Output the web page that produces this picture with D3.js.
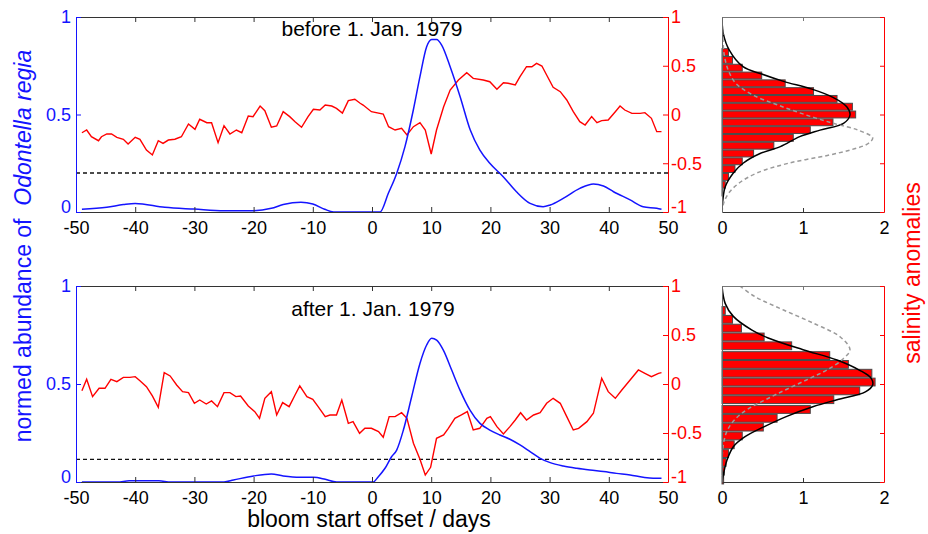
<!DOCTYPE html>
<html>
<head>
<meta charset="utf-8">
<script src="https://cdn.jsdelivr.net/npm/d3@7"></script>
<style>
  body{margin:0;background:#fff;}
  svg{display:block;font-family:"Liberation Sans",Arial,Helvetica,sans-serif;}
</style>
</head>
<body>
<div id="chart"></div>
<script>
// ---- data ----
var xTicks=[-50,-40,-30,-20,-10,0,10,20,30,40,50];
var blueTicks=[0,0.5,1];
var salTicks=[-1,-0.5,0,0.5,1];
var densTicks=[0,1,2];

// before 1. Jan. 1979 : normed abundance (blue)
var topBlueDay=[-49,-44.8,-42,-40,-35,-30,-25,-20,-17,-15,-12,-10,-8,-6.5,-3,1.35,2.76,4.17,5.57,6.98,8.1,9.23,10.08,10.92,11.77,13.2,14.9,16.6,18.2,19.9,22.2,24.4,26.7,28.9,30.1,32.3,35.1,37.4,39.1,40.8,43.6,45.8,48.1,48.9];
var topBlueVal=[0.014,0.024,0.038,0.044,0.024,0.015,0.007,0.007,0.019,0.038,0.05,0.041,0.014,0,0,0,0.096,0.198,0.335,0.523,0.694,0.848,0.885,0.885,0.856,0.745,0.59,0.42,0.318,0.25,0.18,0.104,0.044,0.027,0.036,0.07,0.121,0.144,0.133,0.104,0.062,0.027,0.019,0.014];
// before 1. Jan. 1979 : salinity anomalies (red)
var topRedDay=[-49,-48.2,-47.4,-46.2,-45.7,-44.8,-44,-43.1,-42,-41.2,-40,-39.2,-38.1,-37.1,-36.1,-35.3,-34.4,-33.3,-32.2,-31,-29.9,-29.1,-27.9,-27.1,-26,-25,-24,-22.9,-22,-20.9,-20.1,-18.9,-18.1,-17,-16.1,-15,-13.9,-13,-11.9,-10.8,-9.9,-8.8,-7.9,-6.8,-6,-5,-4,-2.9,-2,-1.5,-0.1,1.9,2.8,3.9,5,5.9,7,8.1,9,10,10.9,12.1,13.2,14.6,16,17.1,18.8,19.9,21.1,22.2,23,24.2,25,26.1,27,27.8,28.7,29.5,30.6,31.8,32.9,34,35.1,36,37.1,38,38.8,39.9,41.1,41.9,42.7,43.9,45.3,46.1,47.2,48.1,48.9];
var topRedVal=[-0.187,-0.159,-0.228,-0.269,-0.228,-0.2,-0.2,-0.234,-0.254,-0.303,-0.234,-0.254,-0.364,-0.415,-0.269,-0.296,-0.262,-0.254,-0.228,-0.097,-0.152,-0.049,-0.084,-0.084,-0.289,-0.115,-0.2,-0.159,-0.187,-0.015,-0.022,0.087,0.039,-0.131,-0.118,0.029,-0.022,-0.074,-0.131,-0.022,0.053,0.046,0.097,0.087,0.063,0.015,0.142,0.156,0.115,0.097,0.029,0.005,-0.125,-0.159,-0.142,-0.21,-0.125,-0.084,-0.159,-0.405,-0.159,0.08,0.251,0.354,0.429,0.371,0.354,0.336,0.258,0.326,0.32,0.303,0.388,0.49,0.49,0.525,0.497,0.405,0.279,0.234,0.149,0.029,-0.074,-0.108,-0.022,-0.084,-0.063,-0.056,0.029,0.087,0.046,0.012,0.012,0.019,-0.039,-0.176,-0.176];

// after 1. Jan. 1979 : normed abundance (blue)
var botBlueDay=[-49,-43,-41,-36,-34,-25,-23.4,-20,-17,-15,-12.2,-9.9,-7.9,-6,0.2,1.07,2.2,3.3,4.17,5.3,6.7,8.1,9.23,10.08,10.92,12.05,13.46,14.86,16.55,18.24,19.9,21.6,23.3,25,26.7,28.4,30.1,32.3,34.6,36.8,39.1,41.3,43.6,45.8,47.5,48.9];
var botBlueVal=[0,0,0.006,0.006,0,0,0.01,0.031,0.041,0.031,0.024,0.024,0.014,0,0,0.027,0.07,0.129,0.163,0.265,0.435,0.605,0.699,0.733,0.724,0.673,0.571,0.469,0.367,0.299,0.265,0.24,0.218,0.189,0.155,0.121,0.099,0.082,0.07,0.061,0.053,0.044,0.036,0.024,0.019,0.019];
// after 1. Jan. 1979 : salinity anomalies (red)
var botRedDay=[-49,-48.2,-47.2,-46.1,-45.1,-44.1,-43.1,-42,-40.9,-40,-39.2,-38.1,-37.1,-36.1,-35.1,-34.1,-33,-32,-31,-30,-29.1,-28,-27.1,-26.1,-25,-24,-23,-22.2,-20.9,-19.8,-19,-18.1,-17,-16.1,-15.1,-14,-13,-12.2,-11,-10,-9.1,-7.9,-7.1,-6,-5.1,-4,-3.2,-2.1,-1.2,-0.1,1.1,1.9,2.9,3.9,5,5.9,7,8.1,9,9.9,10.9,12.1,12.9,14,15.1,16.1,17.1,18.2,19.4,20,21.1,22.2,23.3,24.2,25.1,26.1,27.3,28.4,29.5,30.6,31.8,32.9,34,34.9,36.3,37.4,38.8,39.9,41.1,42.2,43.6,45,46.1,47.2,48.4,48.9];
var botRedVal=[-0.068,0.048,-0.129,-0.044,-0.044,0.048,0.024,0.068,0.068,0.075,0.034,-0.027,-0.122,-0.238,0.116,0.082,-0.01,-0.078,-0.088,-0.197,-0.163,-0.204,-0.173,-0.231,-0.088,-0.088,-0.129,-0.122,-0.224,-0.282,-0.35,-0.146,-0.078,-0.316,-0.19,-0.231,-0.112,-0.02,-0.129,-0.156,-0.231,-0.333,-0.316,-0.316,-0.163,-0.401,-0.384,-0.503,-0.452,-0.452,-0.486,-0.544,-0.333,-0.333,-0.293,-0.35,-0.605,-0.769,-0.929,-0.85,-0.554,-0.52,-0.452,-0.35,-0.316,-0.282,-0.469,-0.452,-0.35,-0.333,-0.435,-0.51,-0.435,-0.367,-0.293,-0.367,-0.316,-0.293,-0.197,-0.146,-0.197,-0.333,-0.469,-0.452,-0.384,-0.299,0.058,-0.078,-0.146,-0.061,0.041,0.143,0.109,0.075,0.109,0.116];

// dashed threshold levels (abundance units)
var topThreshold=0.2;
var botThreshold=0.115;

// histograms of salinity anomalies (bin centres, density)
var topHistCenter=[0.64,0.56,0.48,0.40,0.32,0.24,0.16,0.08,0,-0.08,-0.16,-0.24,-0.32,-0.40,-0.48,-0.56,-0.64,-0.72,-0.80];
var topHistDensity=[0.08,0.13,0.25,0.49,0.78,1.13,1.42,1.61,1.65,1.37,1.09,0.88,0.64,0.39,0.25,0.16,0.08,0.04,0.01];
var topBinWidth=0.08;
var botHistCenter=[0.75,0.66,0.57,0.48,0.39,0.29,0.20,0.11,0.02,-0.07,-0.16,-0.26,-0.35,-0.44,-0.53,-0.62,-0.71,-0.80,-0.89,-0.98];
var botHistDensity=[0.04,0.13,0.24,0.52,0.86,1.33,1.56,1.85,1.89,1.70,1.38,1.09,0.68,0.51,0.25,0.15,0.08,0.05,0.03,0.02];
var botBinWidth=0.0905;

// fitted density curves (solid = this period, dashed = other period)
var topFitSal=[1,0.97,0.83,0.66,0.49,0.415,0.34,0.26,0.176,0.08,-0.005,-0.09,-0.16,-0.227,-0.33,-0.4,-0.5,-0.6,-0.74,-0.88,-0.98,-1];
var topFitDens=[0,0,0.016,0.09,0.26,0.49,0.76,1.11,1.37,1.54,1.58,1.5,1.21,0.96,0.72,0.47,0.26,0.14,0.04,0.01,0,0];
var topAltSal=[1,0.8,0.6,0.45,0.32,0.2,0.1,0,-0.09,-0.16,-0.24,-0.3,-0.36,-0.42,-0.5,-0.6,-0.71,-0.81,-0.91,-1];
var topAltDens=[0,0.01,0.03,0.08,0.17,0.38,0.68,1.02,1.37,1.68,1.86,1.8,1.6,1.3,0.82,0.43,0.2,0.08,0.02,0];
var botFitSal=[1,0.82,0.69,0.55,0.47,0.35,0.245,0.14,0.06,-0.01,-0.08,-0.16,-0.23,-0.33,-0.44,-0.54,-0.64,-0.78,-0.91,-1];
var botFitDens=[0,0.04,0.14,0.37,0.57,1.0,1.42,1.7,1.84,1.86,1.77,1.42,1.13,0.8,0.51,0.28,0.14,0.06,0.02,0];
var botAltSal=[1,0.89,0.755,0.62,0.48,0.35,0.26,0.15,0.06,-0.03,-0.13,-0.3,-0.45,-0.6,-0.8,-1];
var botAltDens=[0.22,0.41,0.76,1.13,1.46,1.58,1.5,1.31,1.09,0.86,0.61,0.24,0.08,0.02,0,0];

// ---- drawing ----
var W=928,H=534;
var BLUE="#1414ff",RED="#ff0000",FRAME="#333";
var svg=d3.select("#chart").append("svg").attr("width",W).attr("height",H);

var xDay=d3.scaleLinear().domain([-50,50]).range([76,668]);
var xDens=d3.scaleLinear().domain([0,2]).range([722,884]);
var fmt=function(d){return String(d);};

function zip(a,b){return a.map(function(v,i){return [v,b[i]];});}

function styleAxis(g,color,fontSize){
  g.selectAll("path").attr("stroke",color).attr("stroke-width",1);
  g.selectAll("line").attr("stroke",color);
  g.selectAll("text").attr("fill",color).attr("font-size",fontSize)
    .attr("font-family","'Liberation Sans',Arial,sans-serif");
}

function drawPanel(p){
  var yBlue=d3.scaleLinear().domain([0,1]).range([p.bottom,p.top]);
  var ySal=d3.scaleLinear().domain([-1,1]).range([p.bottom,p.top]);
  var g=svg.append("g");

  // threshold
  g.append("line")
    .attr("x1",xDay(-50)).attr("x2",xDay(50))
    .attr("y1",yBlue(p.thresh)).attr("y2",yBlue(p.thresh))
    .attr("stroke","#111").attr("stroke-width",1.3).attr("stroke-dasharray","4,3");

  // salinity time series
  g.append("path").datum(zip(p.redDay,p.redVal))
    .attr("fill","none").attr("stroke",RED).attr("stroke-width",1.4)
    .attr("d",d3.line().x(function(d){return xDay(d[0]);}).y(function(d){return ySal(d[1]);}));

  // abundance
  g.append("path").datum(zip(p.blueDay,p.blueVal))
    .attr("fill","none").attr("stroke",BLUE).attr("stroke-width",1.5)
    .attr("d",d3.line().curve(d3.curveMonotoneX).x(function(d){return xDay(d[0]);}).y(function(d){return yBlue(d[1]);}));

  // axes of time series panel
  var gb=g.append("g").attr("transform","translate(0,"+p.bottom+")")
    .call(d3.axisBottom(xDay).tickValues(xTicks).tickFormat(fmt).tickSizeInner(-5).tickSizeOuter(0).tickPadding(9));
  styleAxis(gb,FRAME,18); gb.selectAll("text").attr("fill","#000");
  var gt=g.append("g").attr("transform","translate(0,"+p.top+")")
    .call(d3.axisTop(xDay).tickValues(xTicks).tickFormat("").tickSizeInner(-5).tickSizeOuter(0));
  styleAxis(gt,FRAME,18);
  var gl=g.append("g").attr("transform","translate("+xDay(-50)+",0)")
    .call(d3.axisLeft(yBlue).tickValues(blueTicks).tickFormat(fmt).tickSizeInner(-5).tickSizeOuter(0).tickPadding(5));
  styleAxis(gl,BLUE,18);
  gl.selectAll(".tick").filter(function(d){return d===0;}).select("text").attr("dy","0.05em");
  var gr=g.append("g").attr("transform","translate("+xDay(50)+",0)")
    .call(d3.axisRight(ySal).tickValues(salTicks).tickFormat(fmt).tickSizeInner(-5).tickSizeOuter(0).tickPadding(3));
  styleAxis(gr,RED,18);
  gr.selectAll(".tick").filter(function(d){return d===-1;}).select("text").attr("dy","0.05em");

  // title
  g.append("text").attr("x",p.titleX).attr("y",p.titleY).attr("text-anchor","middle")
    .attr("font-size",21).attr("fill","#000").text(p.title);

  // histogram panel
  var h=svg.append("g");
  var binPx=ySal(0)-ySal(p.binW);
  h.selectAll("rect").data(zip(p.histC,p.histD)).enter().append("rect")
    .attr("x",xDens(0))
    .attr("y",function(d){return ySal(d[0])-binPx*0.44;})
    .attr("width",function(d){return xDens(d[1])-xDens(0);})
    .attr("height",binPx*0.88)
    .attr("fill",RED).attr("stroke","#4a4a4a").attr("stroke-width",1);

  var curve=d3.line().curve(d3.curveCatmullRom)
    .x(function(d){return xDens(d[1]);}).y(function(d){return ySal(d[0]);});
  h.append("clipPath").attr("id","clip"+p.id).append("rect")
    .attr("x",xDens(0)).attr("y",p.top).attr("width",xDens(2)-xDens(0)).attr("height",p.bottom-p.top);
  h.append("path").datum(zip(p.fitSal,p.fitDens)).attr("clip-path","url(#clip"+p.id+")")
    .attr("fill","none").attr("stroke","#000").attr("stroke-width",1.5).attr("d",curve);
  h.append("path").datum(zip(p.altSal,p.altDens)).attr("clip-path","url(#clip"+p.id+")")
    .attr("fill","none").attr("stroke","#9a9a9a").attr("stroke-width",1.5)
    .attr("stroke-dasharray","4,3").attr("d",curve);

  var hb=h.append("g").attr("transform","translate(0,"+p.bottom+")")
    .call(d3.axisBottom(xDens).tickValues(densTicks).tickFormat(fmt).tickSizeInner(-4).tickSizeOuter(0).tickPadding(9));
  styleAxis(hb,FRAME,18); hb.selectAll("text").attr("fill","#000");
  var ht=h.append("g").attr("transform","translate(0,"+p.top+")")
    .call(d3.axisTop(xDens).tickValues(densTicks).tickFormat("").tickSizeInner(-4).tickSizeOuter(0));
  styleAxis(ht,"#777",18);
  var hl=h.append("g").attr("transform","translate("+xDens(0)+",0)")
    .call(d3.axisLeft(ySal).tickValues([]).tickSizeOuter(0));
  styleAxis(hl,"#666",18);
  var hr=h.append("g").attr("transform","translate("+xDens(2)+",0)")
    .call(d3.axisRight(ySal).tickValues(salTicks).tickFormat("").tickSizeInner(-4).tickSizeOuter(0));
  styleAxis(hr,RED,18);
}

drawPanel({id:"a",top:17,bottom:212,title:"before 1. Jan. 1979",titleX:372,titleY:36,
  blueDay:topBlueDay,blueVal:topBlueVal,redDay:topRedDay,redVal:topRedVal,thresh:topThreshold,
  histC:topHistCenter,histD:topHistDensity,binW:topBinWidth,
  fitSal:topFitSal,fitDens:topFitDens,altSal:topAltSal,altDens:topAltDens});
drawPanel({id:"b",top:286,bottom:482,title:"after 1. Jan. 1979",titleX:373,titleY:316,
  blueDay:botBlueDay,blueVal:botBlueVal,redDay:botRedDay,redVal:botRedVal,thresh:botThreshold,
  histC:botHistCenter,histD:botHistDensity,binW:botBinWidth,
  fitSal:botFitSal,fitDens:botFitDens,altSal:botAltSal,altDens:botAltDens});

// axis titles
var yl=svg.append("text").attr("transform","translate(31,246) rotate(-90)")
  .attr("text-anchor","middle").attr("font-size",23).attr("fill",BLUE);
yl.append("tspan").text("normed abundance of\u00a0\u00a0");
yl.append("tspan").attr("font-style","italic").text("Odontella regia");

svg.append("text").attr("transform","translate(920,273) rotate(-90)")
  .attr("text-anchor","middle").attr("font-size",23).attr("fill",RED).text("salinity anomalies");

svg.append("text").attr("x",369).attr("y",527).attr("text-anchor","middle")
  .attr("font-size",23).attr("fill","#000").text("bloom start offset / days");
</script>
</body>
</html>
